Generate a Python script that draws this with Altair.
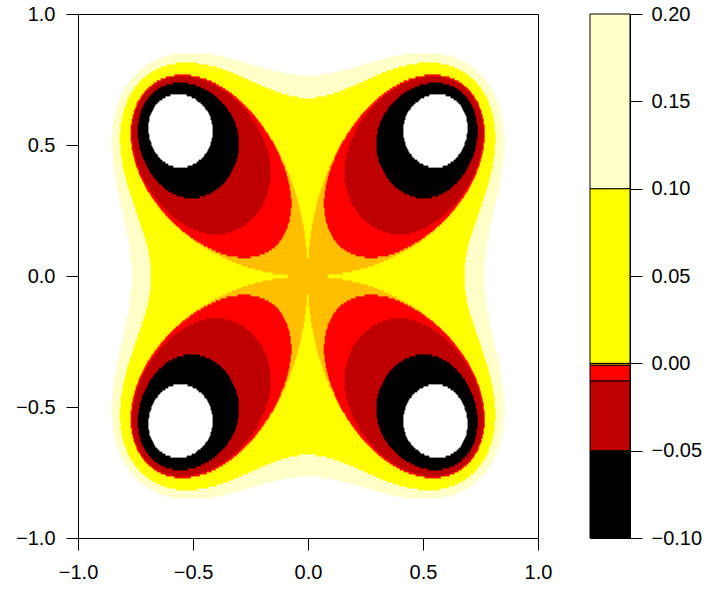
import numpy as np
import pandas as pd
import altair as alt

# ---- values -----------------------------------------------------------
# contour levels (colour key) and their fill colours
levels = [-0.1, -0.05, -0.01, -0.001, 0.0, 0.1, 0.2]
band_colors = ["#000000", "#BF0000", "#FF0000", "#FFBF00", "#FFFF00", "#FFFFC8"]
band_names = ["-0.1 to -0.05", "-0.05 to -0.01", "-0.01 to -0.001",
              "-0.001 to 0", "0 to 0.1", "0.1 to 0.2"]
axis_ticks = [-1.0, -0.5, 0.0, 0.5, 1.0]
key_ticks = [-0.10, -0.05, 0.00, 0.05, 0.10, 0.15, 0.20]

# surface shown: four-leaved rose  f(x, y) = (x^2 + y^2)^3 - 4 x^2 y^2
rose_power = 3
rose_coef = 4.0


def surface(x, y):
    return (x**2 + y**2) ** rose_power - rose_coef * x**2 * y**2


# ---- evaluate on a fine grid and merge equal cells in each row ----------
nx, ny = 460, 262
xe = np.linspace(-1, 1, nx + 1)
ye = np.linspace(-1, 1, ny + 1)
xc = 0.5 * (xe[:-1] + xe[1:])
yc = 0.5 * (ye[:-1] + ye[1:])
XX, YY = np.meshgrid(xc, yc)
F = surface(XX, YY)
band = np.searchsorted(np.array(levels), F, side="right") - 1

recs = []
for j in range(ny):
    b = band[j]
    cut = np.flatnonzero(np.diff(b)) + 1
    starts = np.r_[0, cut]
    ends = np.r_[cut, nx]
    for s0, e0 in zip(starts, ends):
        bi = int(b[s0])
        if 0 <= bi < len(band_names):
            recs.append((round(xe[s0], 5), round(xe[e0], 5),
                         round(ye[j], 5), round(ye[j + 1], 5), band_names[bi]))
cells = pd.DataFrame(recs, columns=["x0", "x1", "y0", "y1", "band"])

fill_scale = alt.Scale(domain=band_names, range=band_colors)
stroke_scale = alt.Scale(domain=band_names, range=band_colors)
unit = alt.Scale(domain=[-1, 1], nice=False, zero=False)

main = alt.Chart(cells).mark_rect(strokeWidth=0.8).encode(
    x=alt.X("x0:Q", scale=unit,
            axis=alt.Axis(values=axis_ticks, format=".1f", title=None, orient="bottom",
                          labelPadding=12)),
    x2="x1:Q",
    y=alt.Y("y0:Q", scale=unit,
            axis=alt.Axis(values=axis_ticks, format=".1f", title=None, orient="left",
                          labelPadding=11)),
    y2="y1:Q",
    color=alt.Color("band:N", scale=fill_scale, legend=None),
    stroke=alt.Stroke("band:N", scale=stroke_scale, legend=None),
).properties(width=460, height=524)

key_df = pd.DataFrame({"lo": levels[:-1], "hi": levels[1:], "band": band_names})
key = alt.Chart(key_df).mark_rect(stroke="black", strokeWidth=1).encode(
    x=alt.value(0),
    x2=alt.value(40),
    y=alt.Y("lo:Q", scale=alt.Scale(domain=[-0.1, 0.2], nice=False, zero=False),
            axis=alt.Axis(values=key_ticks, format=".2f", title=None, orient="right",
                          labelPadding=9)),
    y2="hi:Q",
    color=alt.Color("band:N", scale=fill_scale, legend=None),
).properties(width=40, height=524)

chart = alt.hconcat(main, key, spacing=36).properties(
    autosize=alt.AutoSizeParams(type="none"),
    padding={"left": 78, "top": 14, "right": 630, "bottom": 575},
    background="white",
).configure_view(
    stroke="black", strokeWidth=1
).configure_axis(
    domain=False, grid=False, ticks=True, tickSize=12, tickColor="black", tickWidth=1,
    labelFont="Liberation Sans", labelFontSize=20, labelColor="black",
    labelFlush=False, labelOverlap=False,
)

chart.save("out.html", embed_options={"renderer": "svg", "actions": False})
